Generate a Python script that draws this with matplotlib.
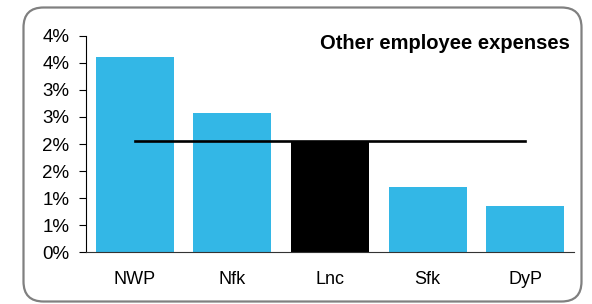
#!/usr/bin/env python
import numpy as np
import matplotlib
matplotlib.use('Agg')
import matplotlib.pyplot as plt
from matplotlib.patches import FancyBboxPatch
from matplotlib.ticker import FuncFormatter

"""
Bar chart of other employee expenses with the group average drawn across
"""

categories = ['NWP', 'Nfk', 'Lnc', 'Sfk', 'DyP']
values = [0.0360, 0.0257, 0.0203, 0.0121, 0.0086]
average = [0.0205, 0.0205, 0.0205, 0.0205, 0.0205]
highlight = 'Lnc'
title = 'Other employee expenses'
yticks = np.arange(0, 0.0401, 0.005)

BLUE = '#33b7e6'


def pct(v, pos=None):
  # excel style rounding, half goes up
  return '%d%%' % int(np.floor(v * 100 + 0.5 + 1e-9))


def main():
  plt.rcParams['font.family'] = ['Liberation Sans', 'DejaVu Sans']
  fig = plt.figure(figsize=(5.92, 3.04), dpi=100)

  # rounded frame round the whole chart
  frame = FancyBboxPatch((0.235, 0.025), 5.58, 2.94,
                         boxstyle='round,pad=0,rounding_size=0.2',
                         transform=fig.dpi_scale_trans,
                         facecolor='none', edgecolor='#808080', linewidth=1.6,
                         zorder=-1)
  fig.patches.append(frame)

  ax = fig.add_axes([0.1453, 0.170, 0.8243, 0.7126])
  ax.set_facecolor('none')

  x = np.arange(len(categories))
  colors = ['black' if c == highlight else BLUE for c in categories]
  ax.bar(x, values, width=0.8, color=colors, zorder=2)
  ax.plot(x, average, color='black', linewidth=1.9, zorder=3)

  ax.set_xlim(-0.5, len(categories) - 0.5)
  ax.set_ylim(0, 0.04)
  ax.set_xticks(x)
  ax.set_xticklabels(categories, fontsize=13)
  ax.set_yticks(yticks)
  ax.yaxis.set_major_formatter(FuncFormatter(pct))
  ax.tick_params(axis='x', length=0, pad=13.5)
  ax.tick_params(axis='y', length=5, width=0.8, pad=7, labelsize=13.5)

  for side in ('top', 'right'):
    ax.spines[side].set_visible(False)
  ax.spines['left'].set_linewidth(0.8)
  ax.spines['bottom'].set_linewidth(0.8)
  ax.spines['bottom'].set_color('#333333')

  ax.text(0.992, 0.966, title, transform=ax.transAxes, ha='right', va='center',
          fontsize=14.5, fontweight='bold')

  fig.savefig('out.png', dpi=100)
  plt.close(fig)


if __name__ == '__main__':
  main()
